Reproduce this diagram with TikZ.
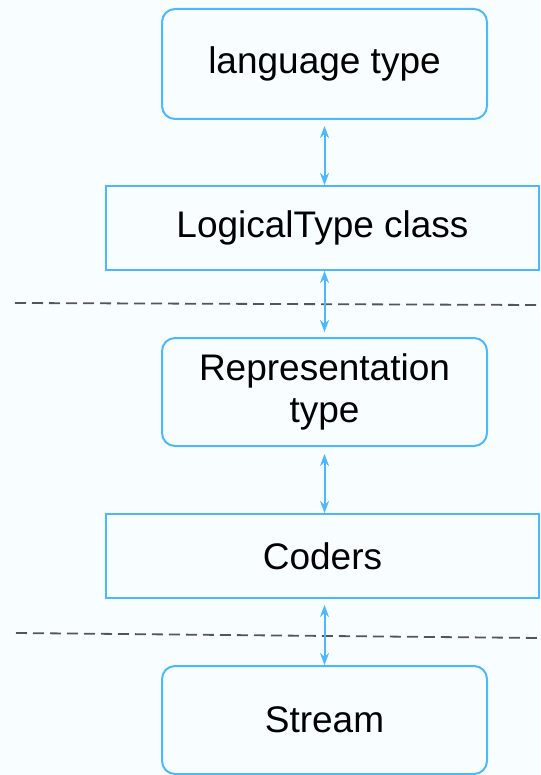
\documentclass[tikz,border=0pt]{standalone}
\usepackage{xcolor}
\usepackage{tikz}
\usepackage{fontspec}
\setmainfont{Liberation Sans}
\usetikzlibrary{arrows.meta}
\definecolor{boxblue}{RGB}{77,184,255}
\definecolor{pagebg}{RGB}{248,254,255}
\definecolor{dashgray}{RGB}{85,85,85}

\tikzset{
    roundbox/.style={draw=boxblue,line width=2pt,rounded corners=13pt,minimum width=325pt,minimum height=108pt,align=center,inner sep=0pt,font=\fontsize{37}{42}\selectfont},
    widebox/.style={draw=boxblue,line width=2pt,minimum width=433pt,minimum height=84pt,align=center,inner sep=0pt,font=\fontsize{37}{42}\selectfont},
    link/.style={draw=boxblue,line width=2pt,{Stealth[length=12pt,width=9pt]}-{Stealth[length=12pt,width=9pt]}},
    layerline/.style={draw=dashgray,line width=1.8pt,dash pattern=on 11pt off 6pt}
}

\begin{document}
\begin{tikzpicture}[x=1pt,y=-1pt]
        \useasboundingbox (0,0) rectangle (540,775);
        \fill[pagebg] (0,0) rectangle (540,775);

        \node[roundbox,minimum height=110pt] (lang) at (324.5,64) {language type};
        \node[widebox] (logical) at (322.5,228) {LogicalType class};
        \node[roundbox] (repr) at (324.5,392) {Representation\\type};
        \node[widebox] (coders) at (322.5,556) {Coders};
        \node[roundbox] (stream) at (324.5,720) {Stream};

        \draw[layerline] (15,303) -- (540,305);
        \draw[layerline] (16,633) -- (540,638);

        \draw[link,shorten <=6pt] (lang.south) -- (lang.south |- logical.north);
        \draw[link,shorten >=5pt] (lang.south |- logical.south) -- (lang.south |- repr.north);
        \draw[link,shorten <=7pt] (repr.south) -- (repr.south |- coders.north);
        \draw[link,shorten <=6pt] (repr.south |- coders.south) -- (stream.north);
    \end{tikzpicture}
\end{document}
